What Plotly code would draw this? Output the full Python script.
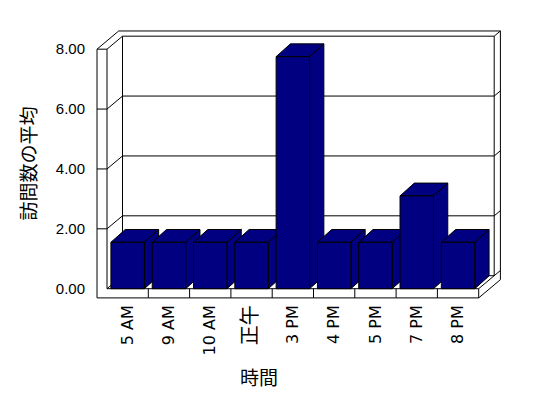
import plotly.graph_objects as go

# ---- data ----
categories = ["5 AM", "9 AM", "10 AM", "正午", "3 PM", "4 PM", "5 PM", "7 PM", "8 PM"]
values = [1.55, 1.55, 1.55, 1.55, 7.75, 1.55, 1.55, 3.1, 1.55]
y_ticks = [0, 2, 4, 6, 8]
y_tick_labels = ["0.00", "2.00", "4.00", "6.00", "8.00"]
x_title = "時間"
y_title = "訪問数の平均"

# ---- layout geometry (pixels) ----
W, H = 548, 398
PX_CAT = 41.3      # pixels per category
PX_Y = 29.94       # pixels per y unit
X_LEFT_INNER_PX = 107.0   # pixel of x = -0.5
Y_ZERO_PX = 288.7         # pixel of y = 0
ML, MT, PW, PH = 95, 30, 409, 269
MR = W - ML - PW
MB = H - MT - PH
x0 = -0.5 - (X_LEFT_INNER_PX - ML) / PX_CAT
x_range = [x0, x0 + PW / PX_CAT]
y0 = -((MT + PH) - Y_ZERO_PX) / PX_Y
y_range = [y0, y0 + PH / PX_Y]

n = len(categories)
xs = list(range(n))
NAVY = "#000080"
BAR_W = 0.81

# 3D frame parameters (data units)
L = -0.5
R = n - 0.5
LO = L - 10 / PX_CAT
FB = -9.2 / PX_Y
TOP = max(y_ticks)
DX, DY = 15.5 / PX_CAT, 13 / PX_Y
K = 1.4
BDX, BDY = 14.3 / PX_CAT, 12.8 / PX_Y

shapes = []
LINE = dict(color="black", width=1)


def seg(xa, ya, xb, yb):
    shapes.append(dict(type="line", xref="x", yref="y", x0=xa, y0=ya, x1=xb, y1=yb,
                       line=LINE, layer="below"))


def poly(pts, fill):
    path = "M " + " L ".join(f"{px:.4f},{py:.4f}" for px, py in pts) + " Z"
    shapes.append(dict(type="path", xref="x", yref="y", path=path, fillcolor=fill,
                       line=LINE, layer="below"))


# outer silhouette of walls + floor
poly([(LO, FB), (LO, TOP), (LO + K * DX, TOP + K * DY), (R + K * DX, TOP + K * DY),
      (R + K * DX, FB + K * DY), (R, FB)], "white")
# left wall front face / floor front edge
seg(LO, TOP, L, TOP)
seg(L, TOP, L, 0)
seg(L, 0, R, 0)
seg(R, 0, R, FB)
# top inner edges
seg(L, TOP, L + DX, TOP + DY)
seg(L + DX, TOP + DY, R + DX, TOP + DY)
seg(R + DX, TOP + DY, R + DX, DY)
seg(R + DX, TOP + DY, R + K * DX, TOP + K * DY)
seg(L + DX, DY, L + DX, TOP + DY)
# floor
seg(L, 0, L + DX, DY)
seg(L + DX, DY, R + DX, DY)
seg(R, 0, R + K * DX, K * DY)
# gridlines
for yv in y_ticks:
    if yv in (0, TOP):
        continue
    seg(LO, yv, L, yv)
    seg(L, yv, L + DX, yv + DY)
    seg(L + DX, yv + DY, R + DX, yv + DY)
    seg(R + DX, yv + DY, R + K * DX, yv + K * DY)
# floor front category separators
for i in range(n - 1):
    seg(i + 0.5, 0, i + 0.5, FB)

# bar top and side faces (front faces come from the bar trace)
for xi, v in zip(xs, values):
    xl, xr = xi - BAR_W / 2, xi + BAR_W / 2
    poly([(xl, v), (xl + BDX, v + BDY), (xr + BDX, v + BDY), (xr, v)], NAVY)
    poly([(xr, 0), (xr + BDX, BDY), (xr + BDX, v + BDY), (xr, v)], NAVY)

ticktext = [c if c != "正午" else '<span style="font-size:20px">正午</span>' for c in categories]

fig = go.Figure(go.Bar(x=xs, y=values, width=BAR_W,
                       marker=dict(color=NAVY, line=dict(color="black", width=1)),
                       hoverinfo="skip"))

FONT = "Liberation Sans, Arial, Noto Sans CJK JP"
XFONT = "DejaVu Sans, Noto Sans CJK JP"
CJK = "Noto Sans CJK JP"
fig.update_layout(
    width=W, height=H,
    margin=dict(l=ML, r=MR, t=MT, b=MB, pad=0),
    paper_bgcolor="white", plot_bgcolor="rgba(0,0,0,0)",
    showlegend=False,
    shapes=shapes,
    font=dict(family=FONT, size=15, color="black"),
    xaxis=dict(range=x_range, tickvals=xs, ticktext=ticktext, tickangle=-90,
               showgrid=False, zeroline=False, showline=False, ticks="",
               ticklabelstandoff=2, fixedrange=True,
               tickfont=dict(family=XFONT, size=16, color="black")),
    yaxis=dict(range=y_range, tickvals=y_ticks, ticktext=y_tick_labels,
               showgrid=False, zeroline=False, showline=False, ticks="",
               ticklabelstandoff=9, fixedrange=True,
               tickfont=dict(family=FONT, size=15, color="black")),
    annotations=[
        dict(text=y_title, xref="paper", yref="paper",
             x=(26.5 - ML) / PW, y=(MT + PH - 164) / PH, textangle=-90,
             showarrow=False, xanchor="center", yanchor="middle",
             font=dict(family=CJK, size=19, color="black")),
        dict(text=x_title, xref="paper", yref="paper",
             x=(259 - ML) / PW, y=(MT + PH - 376) / PH,
             showarrow=False, xanchor="center", yanchor="middle",
             font=dict(family=CJK, size=19, color="black")),
    ],
)

fig.write_html("out.html")
